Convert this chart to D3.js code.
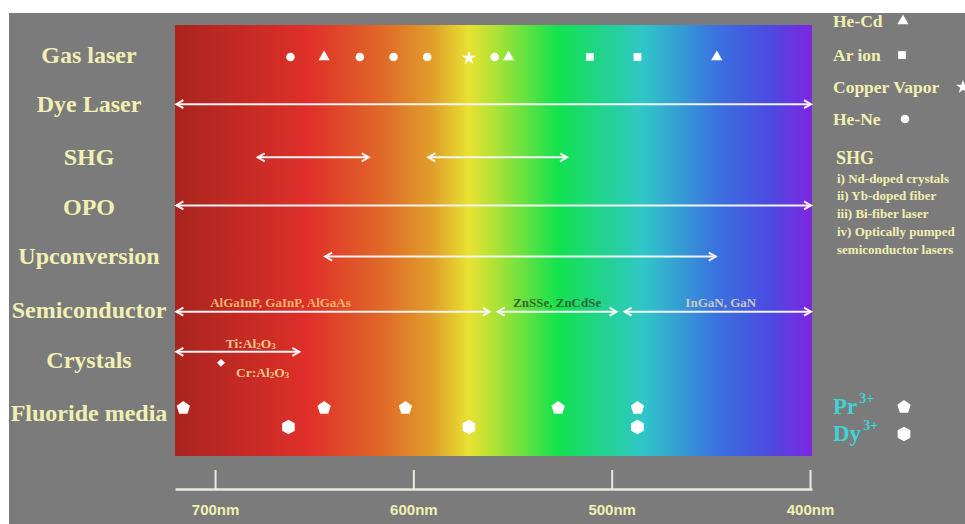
<!DOCTYPE html>
<html><head><meta charset="utf-8">
<script src="https://cdn.jsdelivr.net/npm/d3@7"></script>
<style>body{margin:0;background:#fff;overflow:hidden}</style>
</head><body><svg id="c" width="965" height="524"></svg>
<script>
// ---------- data ----------
const rows = ["Gas laser","Dye Laser","SHG","OPO","Upconversion","Semiconductor","Crystals","Fluoride media"];
const tickValues = [700, 600, 500, 400];
const heNe = [662, 627, 610, 593, 559];
const heCd = [645, 552, 447];
const arIon = [511, 487];
const copperVapor = [572];
const prIon = [716, 645, 604, 527, 487];
const dyIon = [663, 572, 487];
const crRuby = [697];
const arrowRows = ["Dye Laser","SHG","SHG","OPO","Upconversion","Semiconductor","Semiconductor","Semiconductor","Crystals"];
const arrowFrom = [720, 679, 593, 720, 645, 720, 558, 494, 720];
const arrowTo   = [399, 622, 522, 399, 447, 561, 497, 399, 657];
const semiLabels = ["AlGaInP, GaInP, AlGaAs", "ZnSSe, ZnCdSe", "InGaN, GaN"];
const semiCenters = [667, 527.5, 445];
const gasLegend = ["He-Cd", "Ar ion", "Copper Vapor", "He-Ne"];
const shgNotes = ["i) Nd-doped crystals", "ii) Yb-doped fiber", "iii) Bi-fiber laser", "iv) Optically pumped", "semiconductor lasers"];
const spectrumNm = [720, 652, 615, 590, 572, 560, 527, 484, 447, 420, 399];
const spectrumColors = ["#aa241f","#e0302a","#e06a28","#e0a02b","#e8e232","#b4e234","#12e24e","#30c6c8","#3a72e0","#4c4ae0","#7e26e0"];

// ---------- setup ----------
const W = 965, H = 524;
const svg = d3.select("#c");
const pale = "#f1f0b2";
const serif = "'Liberation Serif','Times New Roman',serif";

svg.append("rect").attr("x", 9).attr("y", 13).attr("width", W - 9).attr("height", H - 13).attr("fill", "#7b7b7b");

const x = d3.scaleLinear().domain([720.2, 399]).range([175, 812]);
const y = d3.scalePoint().domain(rows).range([55, 413]);
const specTop = 25, specBottom = 456;

// spectrum
const defs = svg.append("defs");
const grad = defs.append("linearGradient").attr("id", "spec").attr("x1", 0).attr("x2", 1).attr("y1", 0).attr("y2", 0);
spectrumNm.forEach((nm, i) => {
  grad.append("stop").attr("offset", (x(nm) - x.range()[0]) / (x.range()[1] - x.range()[0])).attr("stop-color", spectrumColors[i]);
});
svg.append("rect").attr("x", x.range()[0]).attr("y", specTop).attr("width", x.range()[1] - x.range()[0]).attr("height", specBottom - specTop).attr("fill", "url(#spec)");

// row labels
const labelNudge = {"Dye Laser": -2, "OPO": -1, "Upconversion": -4, "Semiconductor": -1, "Crystals": -2};
svg.append("g").selectAll("text").data(rows).join("text")
  .attr("x", 89).attr("y", d => y(d) + (labelNudge[d] || 0)).attr("text-anchor", "middle").attr("dominant-baseline", "central")
  .attr("font-family", serif).attr("font-weight", "bold").attr("font-size", 24).attr("fill", pale).text(d => d);

// arrows
const arrowOffset = {"Dye Laser": -2, "SHG": 0, "OPO": -3, "Upconversion": -3, "Semiconductor": 1, "Crystals": -10};
const ag = svg.append("g").attr("stroke", "#f4f4f4").attr("stroke-width", 2).attr("fill", "none");
arrowRows.forEach((r, i) => {
  const yy = y(r) + arrowOffset[r];
  const x1 = x(arrowFrom[i]), x2 = x(arrowTo[i]);
  ag.append("line").attr("x1", x1 + 1).attr("x2", x2 - 1).attr("y1", yy).attr("y2", yy);
  ag.append("path").attr("d", `M${x1 + 8},${yy - 4}L${x1 + 1},${yy}L${x1 + 8},${yy + 4}`);
  ag.append("path").attr("d", `M${x2 - 8},${yy - 4}L${x2 - 1},${yy}L${x2 - 8},${yy + 4}`);
});

// semiconductor labels
const semiColors = ["#f0b46c", "#2f6a2c", "#c9c9c0"];
svg.append("g").selectAll("text").data(semiLabels).join("text")
  .attr("x", (d, i) => x(semiCenters[i])).attr("y", y("Semiconductor") - 8)
  .attr("text-anchor", "middle").attr("dominant-baseline", "central")
  .attr("font-family", serif).attr("font-weight", "bold").attr("font-size", 13)
  .attr("fill", (d, i) => semiColors[i]).text(d => d);

// crystals labels
function chem(g, cx, cy, parts) {
  const t = g.append("text").attr("x", cx).attr("y", cy).attr("text-anchor", "middle").attr("dominant-baseline", "central")
    .attr("font-family", serif).attr("font-weight", "bold").attr("font-size", 13.5).attr("fill", "#f2c48a");
  parts.forEach(p => {
    if (p.sub) t.append("tspan").attr("font-size", 9).attr("dy", 3).text(p.t);
    else t.append("tspan").attr("dy", p.back ? -3 : 0).text(p.t);
  });
}
const cg = svg.append("g");
chem(cg, x(682), y("Crystals") - 19, [{t: "Ti:Al"}, {t: "2", sub: true}, {t: "O", back: true}, {t: "3", sub: true}]);
chem(cg, x(676), y("Crystals") + 10, [{t: "Cr:Al"}, {t: "2", sub: true}, {t: "O", back: true}, {t: "3", sub: true}]);
cg.selectAll("path").data(crRuby).join("path")
  .attr("transform", d => `translate(${x(d)},${y("Crystals") + 1})`)
  .attr("d", d3.symbol(d3.symbolDiamond2, 40)).attr("fill", "#fff");

// markers
function poly(n, r, rot) {
  const pts = d3.range(n).map(k => {
    const a = rot + k * 2 * Math.PI / n;
    return [r * Math.sin(a), -r * Math.cos(a)];
  });
  return "M" + pts.map(p => p.join(",")).join("L") + "Z";
}
const pent = poly(5, 7, 0), hex = poly(6, 7.3, 0);
const mg = svg.append("g").attr("fill", "#fff");
const gy = y("Gas laser") + 2;
mg.selectAll(".hene").data(heNe).join("circle").attr("cx", d => x(d)).attr("cy", gy).attr("r", 4.3);
mg.selectAll(".hecd").data(heCd).join("path").attr("transform", d => `translate(${x(d)},${gy})`).attr("d", d3.symbol(d3.symbolTriangle, 55));
mg.selectAll(".ar").data(arIon).join("path").attr("transform", d => `translate(${x(d)},${gy})`).attr("d", d3.symbol(d3.symbolSquare, 60));
mg.selectAll(".cu").data(copperVapor).join("path").attr("transform", d => `translate(${x(d)},${gy + 1})`).attr("d", d3.symbol(d3.symbolStar, 60));
const fy = y("Fluoride media");
mg.selectAll(".pr").data(prIon).join("path").attr("transform", d => `translate(${x(d)},${fy - 5})`).attr("d", pent);
mg.selectAll(".dy").data(dyIon).join("path").attr("transform", d => `translate(${x(d)},${fy + 14})`).attr("d", hex);

// axis
const axisY = 489;
const axis = d3.axisBottom(x).tickValues(tickValues).tickSize(-19).tickSizeOuter(0).tickPadding(15).tickFormat(d => d + "nm");
const ax = svg.append("g").attr("transform", `translate(0,${axisY})`).call(axis);
ax.select(".domain").attr("stroke", "#e9e9dc").attr("stroke-width", 2.5);
ax.selectAll(".tick line").attr("stroke", "#e9e9dc").attr("stroke-width", 2);
ax.selectAll(".tick text").attr("font-family", "'Liberation Sans',Arial,sans-serif").attr("font-weight", "bold")
  .attr("font-size", 15).attr("fill", pale);

// right legend: gas lasers
const legY = [21, 55, 87, 119];
const legSym = [d3.symbol(d3.symbolTriangle, 55)(), d3.symbol(d3.symbolSquare, 60)(), d3.symbol(d3.symbolStar, 60)(), d3.symbol(d3.symbolCircle, 58)()];
const legSymX = [903, 902, 963, 905];
const lg = svg.append("g");
lg.selectAll("text").data(gasLegend).join("text")
  .attr("x", 833).attr("y", (d, i) => legY[i]).attr("dominant-baseline", "central")
  .attr("font-family", serif).attr("font-weight", "bold").attr("font-size", 17.5).attr("fill", pale).text(d => d);
lg.selectAll("path").data(gasLegend).join("path")
  .attr("transform", (d, i) => `translate(${legSymX[i]},${legY[i]})`).attr("d", (d, i) => legSym[i]).attr("fill", "#fff");

// SHG notes
lg.append("text").attr("x", 836).attr("y", 158).attr("dominant-baseline", "central")
  .attr("font-family", serif).attr("font-weight", "bold").attr("font-size", 18).attr("fill", pale).text("SHG");
lg.selectAll(".note").data(shgNotes).join("text").attr("class", "note")
  .attr("x", 837).attr("y", (d, i) => 178 + i * 17.9).attr("dominant-baseline", "central")
  .attr("font-family", serif).attr("font-weight", "bold").attr("font-size", 13).attr("fill", pale).text(d => d);

// ion legend
const ions = [["Pr", 406, pent], ["Dy", 433, hex]];
ions.forEach(([nm, yy, shape]) => {
  const t = lg.append("text").attr("x", 833).attr("y", yy).attr("dominant-baseline", "central")
    .attr("font-family", serif).attr("font-weight", "bold").attr("font-size", 23).attr("fill", "#3fd4d6");
  t.append("tspan").text(nm);
  t.append("tspan").attr("font-size", 14).attr("dy", -8).attr("dx", 2).text("3+");
  lg.append("path").attr("transform", `translate(904,${yy + 1})`).attr("d", shape).attr("fill", "#fff");
});
</script>
</body></html>
